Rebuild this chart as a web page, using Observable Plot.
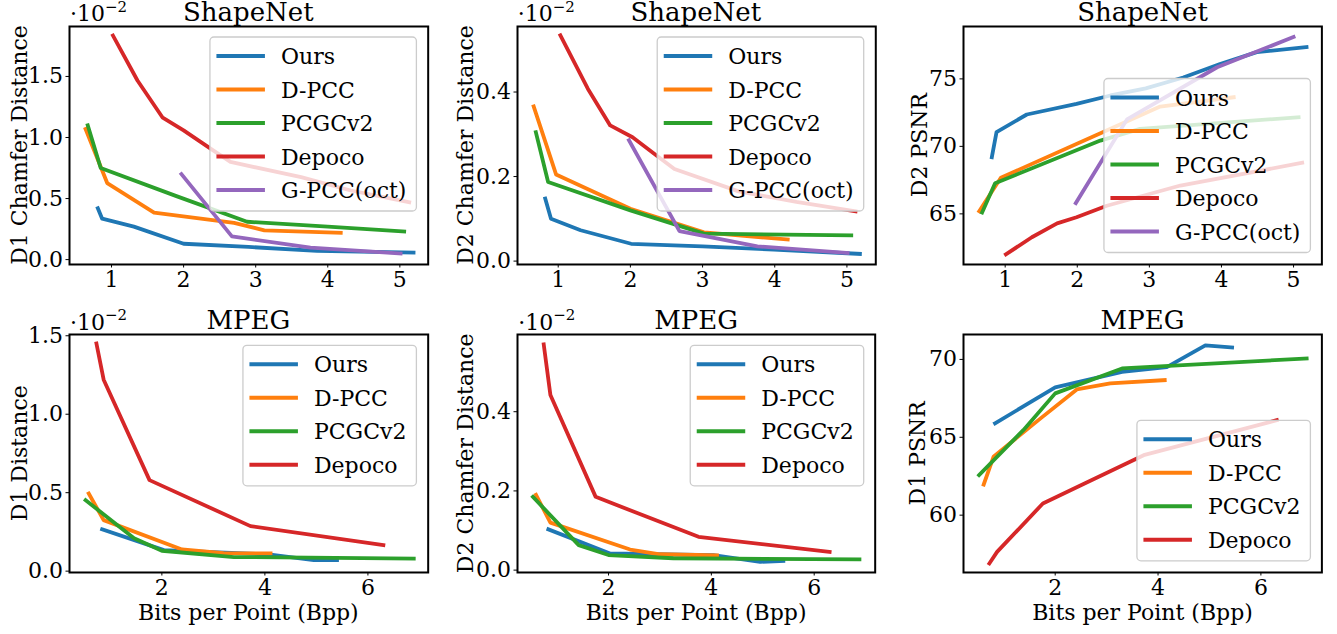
<!DOCTYPE html>
<html>
<head>
<meta charset="utf-8">
<script src="https://cdn.jsdelivr.net/npm/d3@7"></script>
<script src="https://cdn.jsdelivr.net/npm/@observablehq/plot@0.6"></script>
<style>
  html, body { margin: 0; padding: 0; background: #fff; }
  #fig { position: relative; width: 1337px; height: 634px; overflow: hidden; background: #fff; font-family: "DejaVu Serif", serif; color: #000; }
</style>
</head>
<body>
<div id="fig"></div>
<script>
// ---------- categories / colours ----------
const methods = ["Ours", "D-PCC", "PCGCv2", "Depoco", "G-PCC(oct)"];
const colors  = ["#1f77b4", "#ff7f0e", "#2ca02c", "#d62728", "#9467bd"];
const xLabel = "Bits per Point (Bpp)";

// ---------- ShapeNet, D1 Chamfer Distance (x 10^-2) ----------
const snD1_ours  = [[0.81,0.42],[0.87,0.335],[1.31,0.27],[2.0,0.13],[2.9,0.104],[3.85,0.071],[5.19,0.057]];
const snD1_dpcc  = [[0.64,1.07],[0.94,0.627],[1.59,0.385],[2.7,0.30],[3.12,0.24],[4.18,0.22]];
const snD1_pcgc  = [[0.67,1.10],[0.85,0.75],[1.9,0.52],[2.88,0.31],[4.0,0.27],[5.06,0.23]];
const snD1_depoco= [[1.02,1.835],[1.36,1.467],[1.71,1.162],[2.0,1.058],[2.42,0.89],[2.65,0.80],[3.63,0.675],[4.32,0.566],[5.13,0.47]];
const snD1_gpcc  = [[1.97,0.70],[2.67,0.19],[3.76,0.098],[5.01,0.05]];

// ---------- ShapeNet, D2 Chamfer Distance (x 10^-2) ----------
const snD2_ours  = [[0.82,0.148],[0.90,0.10],[1.31,0.073],[2.01,0.041],[3.0,0.035],[3.99,0.027],[5.18,0.017]];
const snD2_dpcc  = [[0.66,0.366],[0.97,0.205],[2.0,0.124],[3.02,0.068],[4.18,0.051]];
const snD2_pcgc  = [[0.69,0.305],[0.86,0.187],[2.0,0.12],[3.02,0.065],[5.06,0.061]];
const snD2_depoco= [[1.03,0.534],[1.41,0.408],[1.72,0.321],[2.03,0.293],[2.33,0.254],[2.61,0.218],[3.5,0.165],[4.3,0.14],[5.12,0.118]];
const snD2_gpcc  = [[1.98,0.286],[2.68,0.071],[3.76,0.035],[5.01,0.019]];

// ---------- ShapeNet, D2 PSNR ----------
const snP_ours   = [[0.815,69.2],[0.88,71.05],[1.30,72.36],[1.99,73.15],[2.46,73.77],[2.95,74.3],[3.47,75.1],[3.98,76.1],[4.49,76.98],[5.18,77.35]];
const snP_dpcc   = [[0.64,65.2],[0.94,67.67],[2.5,71.4],[3.15,72.95],[4.17,73.64]];
const snP_pcgc   = [[0.68,65.1],[0.86,67.27],[2.32,70.43],[2.87,71.3],[5.07,72.16]];
const snP_depoco = [[1.01,62.0],[1.37,63.27],[1.72,64.3],[1.99,64.75],[2.41,65.6],[3.43,67.1],[5.12,68.78]];
const snP_gpcc   = [[1.98,65.8],[2.69,72.0],[3.94,75.86],[5.0,78.1]];

// ---------- MPEG, D1 Distance (x 10^-2) ----------
const mpD1_ours  = [[0.84,0.266],[2.04,0.134],[4.11,0.106],[4.95,0.07],[5.40,0.07]];
const mpD1_dpcc  = [[0.58,0.495],[0.87,0.325],[2.39,0.138],[3.2,0.115],[4.11,0.113]];
const mpD1_pcgc  = [[0.52,0.452],[1.46,0.21],[2.0,0.13],[3.4,0.09],[6.89,0.08]];
const mpD1_depoco= [[0.73,1.45],[0.87,1.22],[1.76,0.58],[3.72,0.287],[6.30,0.166]];

// ---------- MPEG, D2 Chamfer Distance (x 10^-2) ----------
const mpD2_ours  = [[0.83,0.103],[2.03,0.042],[4.04,0.038],[4.95,0.021],[5.40,0.023]];
const mpD2_dpcc  = [[0.59,0.19],[0.87,0.12],[2.42,0.052],[3.0,0.04],[4.11,0.037]];
const mpD2_pcgc  = [[0.53,0.185],[1.42,0.063],[2.0,0.038],[3.26,0.03],[6.88,0.027]];
const mpD2_depoco= [[0.74,0.57],[0.87,0.442],[1.75,0.185],[3.75,0.084],[6.30,0.046]];

// ---------- MPEG, D1 PSNR ----------
const mpP_ours   = [[0.83,65.9],[2.0,68.2],[3.3,69.2],[4.17,69.5],[4.92,70.9],[5.44,70.77]];
const mpP_dpcc   = [[0.61,61.97],[0.80,63.75],[1.71,66.2],[2.42,68.07],[3.07,68.46],[4.13,68.67]];
const mpP_pcgc   = [[0.52,62.57],[1.38,65.46],[2.0,67.82],[3.3,69.42],[6.89,70.06]];
const mpP_depoco = [[0.72,56.9],[0.87,57.64],[1.76,60.75],[2.49,61.9],[3.72,63.85],[6.31,66.1]];

// ---------- tick values ----------
const xTicksSN = [1, 2, 3, 4, 5];
const xTicksMP = [2, 4, 6];
const yTicksCD1 = [0, 0.5, 1.0, 1.5];
const yTicksCD2 = [0, 0.2, 0.4];
const yTicksPSNR_SN = [65, 70, 75];
const yTicksPSNR_MP = [60, 65, 70];

// ---------- panel configuration ----------
const f1 = d3.format(".1f"), fi = d3.format("d");
const panels = [
  { title: "ShapeNet", ylabel: "D1 Chamfer Distance", offset: true, legend: "ur", xlabel: false,
    frame: {l: 69, r: 427.7, t: 26, b: 264}, labelX: 26.7,
    xDomain: [0.417, 5.393], yDomain: [-0.04, 1.909], xTicks: xTicksSN, yTicks: yTicksCD1, yFmt: f1,
    series: [snD1_ours, snD1_dpcc, snD1_pcgc, snD1_depoco, snD1_gpcc] },
  { title: "ShapeNet", ylabel: "D2 Chamfer Distance", offset: true, legend: "ur", xlabel: false,
    frame: {l: 516.7, r: 875, t: 26, b: 264}, labelX: 473.3,
    xDomain: [0.436, 5.40], yDomain: [-0.008, 0.555], xTicks: xTicksSN, yTicks: yTicksCD2, yFmt: f1,
    series: [snD2_ours, snD2_dpcc, snD2_pcgc, snD2_depoco, snD2_gpcc] },
  { title: "ShapeNet", ylabel: "D2 PSNR", offset: false, legend: "lr", xlabel: false,
    frame: {l: 963.3, r: 1321.7, t: 26, b: 264}, labelX: 926.7,
    xDomain: [0.422, 5.393], yDomain: [61.25, 78.88], xTicks: xTicksSN, yTicks: yTicksPSNR_SN, yFmt: fi,
    series: [snP_ours, snP_dpcc, snP_pcgc, snP_depoco, snP_gpcc] },
  { title: "MPEG", ylabel: "D1 Distance", offset: true, legend: "ur", xlabel: true,
    frame: {l: 69, r: 427.7, t: 334.3, b: 572.3}, labelX: 26.7,
    xDomain: [0.207, 7.17], yDomain: [-0.0085, 1.508], xTicks: xTicksMP, yTicks: yTicksCD1, yFmt: f1,
    series: [mpD1_ours, mpD1_dpcc, mpD1_pcgc, mpD1_depoco] },
  { title: "MPEG", ylabel: "D2 Chamfer Distance", offset: true, legend: "ur", xlabel: true,
    frame: {l: 517.3, r: 875, t: 334.3, b: 572.3}, labelX: 473.3,
    xDomain: [0.23, 7.186], yDomain: [-0.006, 0.595], xTicks: xTicksMP, yTicks: yTicksCD2, yFmt: f1,
    series: [mpD2_ours, mpD2_dpcc, mpD2_pcgc, mpD2_depoco] },
  { title: "MPEG", ylabel: "D1 PSNR", offset: false, legend: "lr", xlabel: true,
    frame: {l: 963.3, r: 1321.7, t: 334.3, b: 572.3}, labelX: 925,
    xDomain: [0.217, 7.186], yDomain: [56.32, 71.6], xTicks: xTicksMP, yTicks: yTicksPSNR_MP, yFmt: fi,
    series: [mpP_ours, mpP_dpcc, mpP_pcgc, mpP_depoco] }
];

const fig = document.getElementById("fig");
const FONT = "DejaVu Serif";
const FS = 22;

// ---------- plots ----------
for (const p of panels) {
  const mL = 80, mR = 12, mT = 12, mB = 45;
  const w = p.frame.r - p.frame.l, h = p.frame.b - p.frame.t;
  const marks = p.series.map((data, i) => Plot.line(data, {
    x: d => d[0], y: d => d[1], stroke: colors[i], strokeWidth: 3.8,
    strokeLinejoin: "round", strokeLinecap: "square", clip: true
  }));
  marks.push(Plot.axisX({ticks: p.xTicks, tickSize: 3.5, tickPadding: 3, tickFormat: fi, label: null}));
  marks.push(Plot.axisY({ticks: p.yTicks, tickSize: 3.5, tickPadding: 3, tickFormat: p.yFmt, label: null}));
  marks.push(Plot.frame({stroke: "black", strokeWidth: 2}));
  const svg = Plot.plot({
    width: mL + w + mR, height: mT + h + mB,
    marginLeft: mL, marginRight: mR, marginTop: mT, marginBottom: mB,
    x: {domain: p.xDomain}, y: {domain: p.yDomain},
    style: {fontFamily: FONT, fontSize: FS + "px", color: "black", background: "transparent", overflow: "visible"},
    marks
  });
  svg.style.position = "absolute";
  svg.style.left = (p.frame.l - mL) + "px";
  svg.style.top = (p.frame.t - mT) + "px";
  svg.style.maxWidth = "none";
  fig.appendChild(svg);
}

// ---------- overlay: titles, labels, legends ----------
const ov = d3.create("svg").attr("width", 1337).attr("height", 634)
  .style("position", "absolute").style("left", "0px").style("top", "0px")
  .attr("font-family", FONT).attr("fill", "black");
fig.appendChild(ov.node());

for (const p of panels) {
  const F = p.frame, cx = (F.l + F.r) / 2, cy = (F.t + F.b) / 2;
  ov.append("text").attr("x", cx).attr("y", F.t - 5.3).attr("text-anchor", "middle")
    .attr("font-size", 26).text(p.title);
  if (p.offset) {
    const t = ov.append("text").attr("x", F.l + 1).attr("y", F.t - 4.6).attr("font-size", FS);
    t.append("tspan").text("·10");
    t.append("tspan").attr("font-size", 15).attr("dy", -9.5).text("−2");
  }
  ov.append("text").attr("x", p.labelX).attr("y", cy).attr("text-anchor", "middle")
    .attr("font-size", FS).attr("transform", `rotate(-90,${p.labelX},${cy})`).text(p.ylabel);
  if (p.xlabel) {
    ov.append("text").attr("x", cx).attr("y", F.b + 47.5).attr("text-anchor", "middle")
      .attr("font-size", FS).text(xLabel);
  }
  // legend
  const n = p.series.length;
  const g = ov.append("g");
  const box = g.append("rect");
  const texts = [];
  for (let i = 0; i < n; i++) {
    const ry = 19 + 33.5 * i;
    g.append("line").attr("x1", 6.5).attr("x2", 55).attr("y1", ry).attr("y2", ry)
      .attr("stroke", colors[i]).attr("stroke-width", 4);
    texts.push(g.append("text").attr("x", 71).attr("y", ry + 8).attr("font-size", FS).text(methods[i]));
  }
  const maxW = d3.max(texts, t => t.node().getComputedTextLength());
  const bw = 71 + maxW + 10, bh = 19 + 33.5 * (n - 1) + 21;
  box.attr("width", bw).attr("height", bh).attr("rx", 4).attr("ry", 4)
    .attr("fill", "white").attr("fill-opacity", 0.8)
    .attr("stroke", "#cccccc").attr("stroke-width", 1.3);
  const lx = F.r - 11.3 - bw;
  const ly = p.legend === "ur" ? F.t + 11 : F.b - 11.5 - bh;
  g.attr("transform", `translate(${lx},${ly})`);
}
</script>
</body>
</html>
